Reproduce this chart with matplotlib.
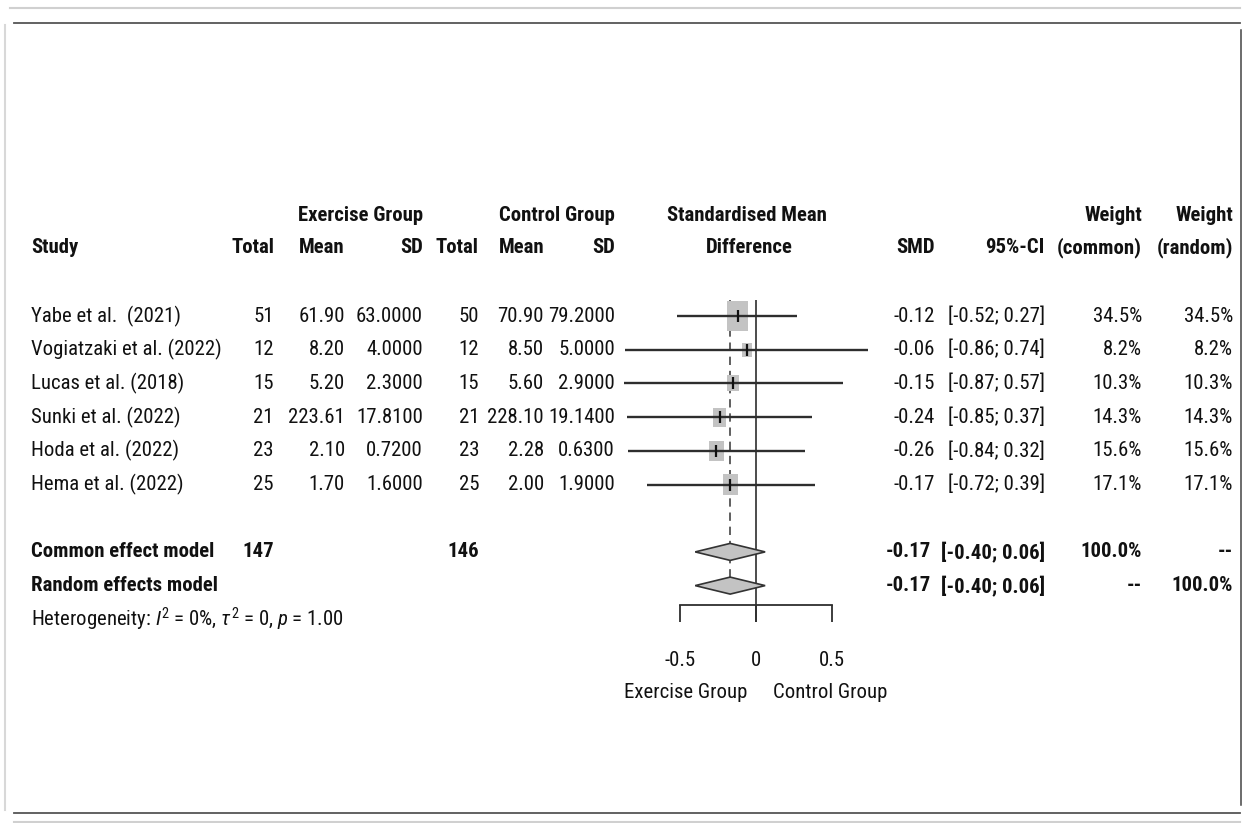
import matplotlib
matplotlib.use("Agg")
import matplotlib.pyplot as plt
import matplotlib.transforms as mtransforms
from matplotlib import font_manager
from matplotlib.patches import Rectangle, Polygon
from matplotlib.lines import Line2D
import numpy as np

# ---------------- data ----------------
studies = ["Yabe et al.  (2021)", "Vogiatzaki et al. (2022)", "Lucas et al. (2018)",
           "Sunki et al. (2022)", "Hoda et al. (2022)", "Hema et al. (2022)"]
exercise_total = [51, 12, 15, 21, 23, 25]
exercise_mean = [61.90, 8.20, 5.20, 223.61, 2.10, 1.70]
exercise_sd = [63.0, 4.0, 2.3, 17.81, 0.72, 1.6]
control_total = [50, 12, 15, 21, 23, 25]
control_mean = [70.90, 8.50, 5.60, 228.10, 2.28, 2.00]
control_sd = [79.2, 5.0, 2.9, 19.14, 0.63, 1.9]
smd = [-0.12, -0.06, -0.15, -0.24, -0.26, -0.17]
ci_low = [-0.52, -0.86, -0.87, -0.85, -0.84, -0.72]
ci_high = [0.27, 0.74, 0.57, 0.37, 0.32, 0.39]
weight_common = [34.5, 8.2, 10.3, 14.3, 15.6, 17.1]
weight_random = [34.5, 8.2, 10.3, 14.3, 15.6, 17.1]

pooled_labels = ["Common effect model", "Random effects model"]
pooled_smd = [-0.17, -0.17]
pooled_low = [-0.40, -0.40]
pooled_high = [0.06, 0.06]
pooled_w_common = ["100.0%", "--"]
pooled_w_random = ["--", "100.0%"]
total_exercise = 147
total_control = 146
x_ticks = [-0.5, 0, 0.5]
x_tick_labels = ["-0.5", "0", "0.5"]
label_left = "Exercise Group"
label_right = "Control Group"
heterogeneity = r"Heterogeneity: $I^2$ = 0%, $\tau^2$ = 0, $p$ = 1.00"

# ---------------- fonts: prefer a narrow sans ----------------
ttf = font_manager.fontManager.ttflist


def has(name, stretch=None):
    return any(f.name == name and (stretch is None or f.stretch == stretch) for f in ttf)


FONT, STRETCH = None, "normal"
for nm in ["Liberation Sans Narrow", "Arial Narrow", "Roboto Condensed",
           "Open Sans Condensed", "Noto Sans Condensed", "DejaVu Sans Condensed"]:
    if has(nm):
        FONT = nm
        break
if FONT is None:
    for nm in ["Roboto", "Noto Sans", "Open Sans", "DejaVu Sans"]:
        for st in ["condensed", "semi-condensed"]:
            if has(nm, st):
                FONT, STRETCH = nm, st
                break
        if FONT:
            break
if FONT is None:
    FONT = "Liberation Sans"

plt.rcParams["font.family"] = [FONT, "DejaVu Sans"]
plt.rcParams["font.stretch"] = STRETCH
plt.rcParams["mathtext.fontset"] = "custom"
plt.rcParams["mathtext.rm"] = FONT
plt.rcParams["mathtext.it"] = FONT + ":italic"
plt.rcParams["mathtext.bf"] = FONT + ":bold"

# ---------------- layout ----------------
W, H = 1249, 823
fig = plt.figure(figsize=(W / 100, H / 100), dpi=100)
ax = fig.add_axes([0, 0, 1, 1])
ax.axis("off")

# size the font so a 7-char number is ~66 px wide (as in the reference)
renderer = fig.canvas.get_renderer()
probe = fig.text(0, 0, "17.8100", fontsize=10)
pw = probe.get_window_extent(renderer).width
probe.remove()
FS = 10 * 66.0 / pw

PX_UNIT = 152.0
X0 = 756.0
ROW0 = 316.0
ROW_H = 33.7
ax.set_xlim(-X0 / PX_UNIT, (W - X0) / PX_UNIT)
ax.set_ylim((H - ROW0) / ROW_H, -ROW0 / ROW_H)
tr = mtransforms.blended_transform_factory(ax.transAxes, ax.transData)

TXT = "#111111"
col = {"name": 31, "et": 274, "em": 345, "es": 423, "ct": 479, "cm": 544, "cs": 615,
       "smd": 935, "ci": 1045, "wc": 1142, "wr": 1233}


def t(xpx, r, s, ha="right", bold=False, **kw):
    ax.text(xpx / W, r, s, transform=tr, ha=ha, va="center", fontsize=FS,
            fontweight="bold" if bold else "normal", color=TXT, **kw)


# headers
h1, h2 = -2.97, -2.02
t(col["es"], h1, "Exercise Group", bold=True)
t(col["cs"], h1, "Control Group", bold=True)
t(747, h1, "Standardised Mean", ha="center", bold=True)
t(col["wc"], h1, "Weight", bold=True)
t(col["wr"], h1, "Weight", bold=True)
t(col["name"], h2, "Study", ha="left", bold=True)
t(col["et"], h2, "Total", bold=True)
t(col["em"], h2, "Mean", bold=True)
t(col["es"], h2, "SD", bold=True)
t(col["ct"], h2, "Total", bold=True)
t(col["cm"], h2, "Mean", bold=True)
t(col["cs"], h2, "SD", bold=True)
t(749, h2, "Difference", ha="center", bold=True)
t(col["smd"], h2, "SMD", bold=True)
t(col["ci"], h2, "95%-CI", bold=True)
t(col["wc"], h2, "(common)", bold=True)
t(col["wr"], h2, "(random)", bold=True)

rows = np.arange(len(studies))
for i, r in enumerate(rows):
    t(col["name"], r, studies[i], ha="left")
    t(col["et"], r, f"{exercise_total[i]}")
    t(col["em"], r, f"{exercise_mean[i]:.2f}")
    t(col["es"], r, f"{exercise_sd[i]:.4f}")
    t(col["ct"], r, f"{control_total[i]}")
    t(col["cm"], r, f"{control_mean[i]:.2f}")
    t(col["cs"], r, f"{control_sd[i]:.4f}")
    t(col["smd"], r, f"{smd[i]:.2f}")
    t(col["ci"], r, f"[{ci_low[i]:.2f}; {ci_high[i]:.2f}]")
    t(col["wc"], r, f"{weight_common[i]:.1f}%")
    t(col["wr"], r, f"{weight_random[i]:.1f}%")

prow = [7, 8]
for j, r in enumerate(prow):
    t(col["name"], r, pooled_labels[j], ha="left", bold=True)
    t(col["smd"] - 4, r, f"{pooled_smd[j]:.2f}", bold=True)
    t(col["ci"], r, f"[{pooled_low[j]:.2f}; {pooled_high[j]:.2f}]", bold=True)
    t(col["wc"], r, pooled_w_common[j], bold=True)
    t(col["wr"], r, pooled_w_random[j], bold=True)
t(col["et"], prow[0], f"{total_exercise}", bold=True)
t(col["ct"], prow[0], f"{total_control}", bold=True)
t(col["name"], 9.0, heterogeneity, ha="left")

# ---------------- forest ----------------
LINE = "#2e2e2e"
top = -0.47
r_axis = (605 - ROW0) / ROW_H
r_tick = (622 - ROW0) / ROW_H

for i, r in enumerate(rows):
    side = 21.0 * np.sqrt(weight_common[i] / max(weight_common))
    wd = side / PX_UNIT
    hd = 1.4 * side / ROW_H
    ax.add_patch(Rectangle((smd[i] - wd / 2, r - hd / 2), wd, hd,
                           facecolor="#c3c3c3", edgecolor="none", zorder=2))
ax.hlines(rows, ci_low, ci_high, color=LINE, lw=1.7, zorder=3)
ax.plot(smd, rows, ls="none", marker="|", ms=8, mew=1.6, color="#111", zorder=4)

ax.vlines(0, top, r_tick, color=LINE, lw=1.2, zorder=1)
ax.vlines(pooled_smd[0], top, prow[1] - 0.2, color="#444", lw=1.2,
          linestyles=(0, (5, 3.5)), zorder=1)

dh = 8.5 / ROW_H
for j, r in enumerate(prow):
    ax.add_patch(Polygon([(pooled_low[j], r), (pooled_smd[j], r - dh),
                          (pooled_high[j], r), (pooled_smd[j], r + dh)],
                         closed=True, facecolor="#c3c3c3", edgecolor="#333",
                         lw=1.2, zorder=5))

ax.plot([x_ticks[0], x_ticks[-1]], [r_axis, r_axis], color=LINE, lw=1.3)
ax.vlines(x_ticks, r_axis, r_tick, color=LINE, lw=1.3)
for v, lab in zip(x_ticks, x_tick_labels):
    ax.text(v, (660 - ROW0) / ROW_H, lab, ha="center", va="center",
            fontsize=FS, color=TXT)
ax.text(-0.06, (692 - ROW0) / ROW_H, label_left, ha="right", va="center",
        fontsize=FS, color=TXT)
ax.text(0.11, (692 - ROW0) / ROW_H, label_right, ha="left", va="center",
        fontsize=FS, color=TXT)

# ---------------- frame ----------------
def fl(x1, y1, x2, y2, c, lw):
    fig.add_artist(Line2D([x1 / W, x2 / W], [1 - y1 / H, 1 - y2 / H],
                          transform=fig.transFigure, color=c, lw=lw))

fl(10, 8, 1240, 8, "#d0d0d0", 1.5)
fl(14, 23, 1240, 23, "#555555", 1.3)
fl(14, 813, 1240, 813, "#555555", 1.3)
fl(14, 822, 1240, 822, "#d0d0d0", 1.5)
fl(5, 25, 5, 810, "#d8d8d8", 1.5)
fl(1241, 30, 1241, 805, "#444444", 1.1)

fig.savefig("out.png", dpi=100, facecolor="white")
